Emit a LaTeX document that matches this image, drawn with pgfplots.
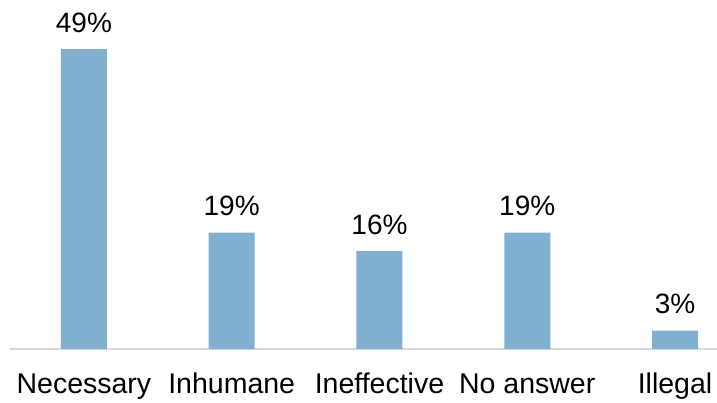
\documentclass[border=0pt]{standalone}
\usepackage{pgfplots}
\pgfplotsset{compat=1.18}
\usepackage{fontspec}
\setmainfont{Liberation Sans}
\definecolor{barblue}{HTML}{80AFCF}
\definecolor{axisgray}{HTML}{D9D9D9}

\begin{document}
\begin{tikzpicture}
\path[use as bounding box] (-10pt,-53pt) rectangle (707pt,349pt);
\begin{axis}[
    scale only axis,
    width=707pt, height=336.6pt,
    xmin=-0.5, xmax=4.284,
    ymin=0, ymax=55,
    axis y line=none,
    axis x line=bottom,
    axis line style={-, axisgray, line width=1.6pt},
    xtick={0,1,2,3,4},
    xticklabels={Necessary, Inhumane, Ineffective, No answer, Illegal},
    major tick length=0pt,
    xticklabel style={anchor=base, yshift=-44pt, font=\fontsize{28.5}{33}\selectfont, text=black},
    ybar, bar width=46pt,
    point meta=explicit symbolic,
    nodes near coords,
    nodes near coords style={anchor=base, yshift=17pt, inner sep=0pt, font=\fontsize{28}{33}\selectfont, text=black},
    clip=false,
]
\addplot[fill=barblue, draw=none] coordinates {
    (0,49) [49\%]
    (1,19) [19\%]
    (2,16) [16\%]
    (3,19) [19\%]
    (4,3)  [3\%]
};
\end{axis}
\end{tikzpicture}
\end{document}
